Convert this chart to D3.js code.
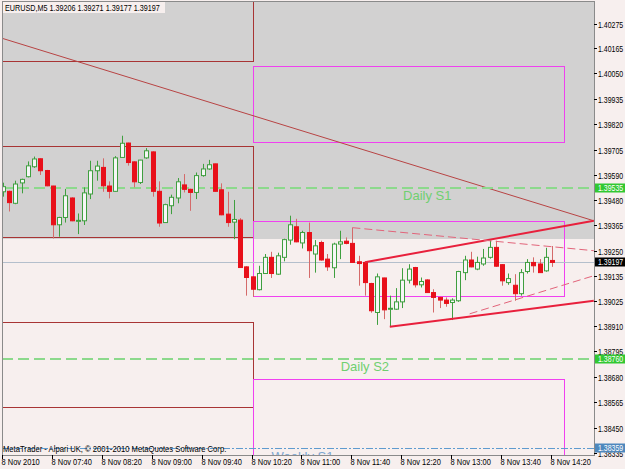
<!DOCTYPE html>
<html>
<head>
<meta charset="utf-8">
<script src="https://cdn.jsdelivr.net/npm/d3@7/dist/d3.min.js"></script>
<style>
  body { margin: 0; background: #f7efee; }
  svg { display: block; font-family: 'Liberation Sans', Arial, sans-serif; }
</style>
</head>
<body>
<div id="chart"></div>
<script>
// EURUSD M5, 8 Nov 2010 07:00 - 14:20 (89 bars)
var open = [1.39516,1.39518,1.39464,1.39556,1.39584,1.39629,1.39665,1.39612,1.39542,1.39367,
  1.39400,1.39488,1.39383,1.39385,1.39506,1.39611,1.39626,1.39542,1.39518,1.39671,
  1.39736,1.39651,1.39558,1.39669,1.39696,1.39518,1.39377,1.39453,1.39488,1.39547,
  1.39527,1.39513,1.39589,1.39619,1.39642,1.39525,1.39415,1.39379,1.39388,1.39177,
  1.39132,1.39074,1.39147,1.39220,1.39144,1.39220,1.39298,1.39358,1.39285,1.39332,
  1.39235,1.39287,1.39212,1.39173,1.39280,1.39293,1.39283,1.39200,1.39197,1.39102,
  1.38971,1.39127,1.38988,1.38986,1.39019,1.39117,1.39174,1.39096,1.39118,1.39061,
  1.39039,1.39027,1.39016,1.39024,1.39151,1.39208,1.39167,1.39190,1.39220,1.39265,
  1.39187,1.39106,1.39094,1.39056,1.39156,1.39197,1.39190,1.39159,1.39206];
var high = [1.39557,1.39521,1.39566,1.39575,1.39653,1.39675,1.39667,1.39615,1.39543,1.39403,
  1.39529,1.39491,1.39418,1.39536,1.39656,1.39656,1.39667,1.39563,1.39677,1.39769,
  1.39738,1.39654,1.39660,1.39713,1.39699,1.39563,1.39462,1.39503,1.39578,1.39596,
  1.39530,1.39603,1.39642,1.39660,1.39643,1.39554,1.39516,1.39479,1.39397,1.39180,
  1.39134,1.39182,1.39235,1.39245,1.39241,1.39304,1.39408,1.39394,1.39340,1.39377,
  1.39298,1.39295,1.39235,1.39286,1.39340,1.39310,1.39354,1.39227,1.39198,1.39105,
  1.39147,1.39128,1.39047,1.39081,1.39171,1.39189,1.39177,1.39129,1.39121,1.39076,
  1.39042,1.39039,1.39035,1.39159,1.39227,1.39245,1.39223,1.39258,1.39298,1.39295,
  1.39189,1.39147,1.39144,1.39167,1.39212,1.39220,1.39212,1.39263,1.39271];
var low = [1.39494,1.39427,1.39460,1.39509,1.39581,1.39624,1.39592,1.39541,1.39305,1.39313,
  1.39377,1.39383,1.39325,1.39366,1.39483,1.39566,1.39516,1.39486,1.39516,1.39670,
  1.39634,1.39536,1.39551,1.39665,1.39494,1.39358,1.39376,1.39415,1.39464,1.39513,
  1.39430,1.39483,1.39584,1.39615,1.39516,1.39410,1.39358,1.39302,1.39173,1.39047,
  1.39042,1.39071,1.39146,1.39127,1.39141,1.39202,1.39277,1.39288,1.39260,1.39127,
  1.39151,1.39205,1.39159,1.39127,1.39212,1.39279,1.39196,1.39092,1.39047,1.38970,
  1.38915,1.38941,1.38907,1.38983,1.38991,1.39102,1.39084,1.39084,1.39060,1.38971,
  1.38991,1.38997,1.38937,1.39019,1.39117,1.39175,1.39162,1.39182,1.39214,1.39177,
  1.39092,1.39096,1.39024,1.39047,1.39147,1.39151,1.39150,1.39155,1.39177];
var close = [1.39539,1.39467,1.39551,1.39572,1.39633,1.39664,1.39611,1.39543,1.39367,1.39400,
  1.39498,1.39385,1.39387,1.39511,1.39611,1.39632,1.39543,1.39518,1.39669,1.39735,
  1.39648,1.39561,1.39659,1.39701,1.39518,1.39375,1.39458,1.39491,1.39561,1.39527,
  1.39513,1.39589,1.39619,1.39638,1.39518,1.39412,1.39377,1.39391,1.39174,1.39129,
  1.39076,1.39147,1.39220,1.39147,1.39227,1.39300,1.39367,1.39290,1.39332,1.39250,
  1.39272,1.39208,1.39177,1.39280,1.39290,1.39283,1.39197,1.39192,1.39106,1.38979,
  1.39132,1.38983,1.38990,1.39019,1.39117,1.39167,1.39096,1.39111,1.39061,1.39039,
  1.39027,1.39012,1.39027,1.39156,1.39208,1.39177,1.39197,1.39217,1.39265,1.39180,
  1.39114,1.39124,1.39056,1.39151,1.39197,1.39182,1.39151,1.39220,1.39197];

// time axis labels (every 8 bars)
var timeLabels = ["8 Nov 2010","8 Nov 07:40","8 Nov 08:20","8 Nov 09:00","8 Nov 09:40","8 Nov 10:20",
  "8 Nov 11:00","8 Nov 11:40","8 Nov 12:20","8 Nov 13:00","8 Nov 13:40","8 Nov 14:20"];
var timeLabelBars = [0,8,16,24,32,40,48,56,64,72,80,88];

// price axis labels
var priceTicks = ["1.40275","1.40165","1.40050","1.39935","1.39820","1.39705","1.39590","1.39480",
  "1.39365","1.39250","1.39135","1.39025","1.38910","1.38795","1.38680","1.38565","1.38450","1.38335"];

// pivot levels
var levelNames = ["Daily S1","Daily S2","Weekly S1"];
var levelValues = [1.39535, 1.38760, 1.38359];
var levelLabelBars = [68, 58, 48];
var bid = 1.39197;

// objects (bar index from/to, price lo/hi)
var greyZone = [1.39304, 1.41];
var prevRects = [[-10, 40, 1.40108, 1.41], [-10, 40, 1.39312, 1.39722], [-10, 40, 1.38545, 1.38930]];
var nextRects = [[40, 90, 1.39739, 1.40085], [40, 90, 1.39047, 1.39384], [40, 90, 1.37, 1.38673]];
var trendLine = [[-0.5, 1.40212], [94.7, 1.39385]];
var channelUp = [[58, 1.39198], [94.7, 1.39385]];
var channelDown = [[62, 1.38907], [94.7, 1.39024]];
var dashUp = [[56, 1.39354], [94.7, 1.39250]];
var dashDown = [[74.8, 1.38965], [94.7, 1.39137]];

var W = 625, H = 469;
var plot = { left: 2, top: 2, right: 594, bottom: 455 };

var x = d3.scaleLinear().domain([0, 88]).range([3, 552]);
var y = d3.scaleLinear().domain([1.38325, 1.40370]).range([455.6, 2.6]);

var svg = d3.select('#chart').append('svg')
  .attr('width', W).attr('height', H);

svg.append('rect').attr('width', W).attr('height', H).attr('fill', '#f7efee');

svg.append('clipPath').attr('id', 'clip')
  .append('rect')
  .attr('x', plot.left).attr('y', plot.top)
  .attr('width', plot.right - plot.left).attr('height', plot.bottom - plot.top);

var g = svg.append('g').attr('clip-path', 'url(#clip)');

// narrow terminal-like text
function small(parent, tx, ty, str, color, sx) {
  return parent.append('text')
    .attr('transform', 'translate(' + tx + ',' + ty + ') scale(' + (sx || 0.82) + ',1)')
    .attr('font-size', 8.5)
    .attr('fill', color)
    .text(str);
}

// grey zone
g.append('rect')
  .attr('x', plot.left).attr('width', plot.right - plot.left)
  .attr('y', y(greyZone[1])).attr('height', Math.round(y(greyZone[0])) - y(greyZone[1]))
  .attr('fill', '#d2d1d1');

// rectangles
function boxes(list, color) {
  g.selectAll(null).data(list).enter().append('rect')
    .attr('x', d => Math.round(x(d[0])) + 0.5)
    .attr('y', d => Math.round(y(d[3])) + 0.5)
    .attr('width', d => Math.round(x(d[1])) - Math.round(x(d[0])))
    .attr('height', d => Math.round(y(d[2])) - Math.round(y(d[3])))
    .attr('fill', 'none')
    .attr('stroke', color);
}
boxes(prevRects, '#a83434');
boxes(nextRects, '#f040f0');

// old trend line
var line = d3.line().x(d => x(d[0])).y(d => y(d[1]));
g.append('path').attr('d', line(trendLine))
  .attr('fill', 'none').attr('stroke', '#b84444').attr('stroke-width', 1);

// pivot levels
levelValues.forEach(function (v, i) {
  var weekly = i == 2;
  var ly = Math.round(y(v)) + (weekly ? 0.5 : 0);
  g.append('line')
    .attr('x1', plot.left).attr('x2', plot.right)
    .attr('y1', ly).attr('y2', ly)
    .attr('stroke', weekly ? '#5f9bcf' : '#8cd98c')
    .attr('stroke-width', weekly ? 1 : 2)
    .attr('stroke-dasharray', weekly ? '7,2,2,2' : '11,5');
  g.append('text')
    .attr('x', x(levelLabelBars[i]))
    .attr('y', ly + 12)
    .attr('text-anchor', 'middle')
    .attr('font-size', 13)
    .attr('fill', weekly ? '#7aa6d2' : '#70cf70')
    .text(levelNames[i]);
});

// bid line
g.append('line')
  .attr('x1', plot.left).attr('x2', plot.right)
  .attr('y1', Math.round(y(bid)) + 0.5).attr('y2', Math.round(y(bid)) + 0.5)
  .attr('stroke', '#b4bfcc');

// candles
var bars = d3.range(open.length).map(i => ({ i: i, o: open[i], h: high[i], l: low[i], c: close[i] }));
var candle = g.selectAll('.candle').data(bars).enter().append('g').attr('class', 'candle');
candle.append('line')
  .attr('x1', d => Math.round(x(d.i)) + 0.5).attr('x2', d => Math.round(x(d.i)) + 0.5)
  .attr('y1', d => y(d.h)).attr('y2', d => y(d.l))
  .attr('stroke', d => d.c >= d.o ? '#3f9f3f' : '#d46a6a');
candle.append('rect')
  .attr('x', d => Math.round(x(d.i)) - 1.5)
  .attr('y', d => y(Math.max(d.o, d.c)))
  .attr('width', 4)
  .attr('height', d => Math.max(1, y(Math.min(d.o, d.c)) - y(Math.max(d.o, d.c))))
  .attr('fill', d => d.c >= d.o ? '#f6f6f6' : '#e8101a')
  .attr('stroke', d => d.c >= d.o ? '#3f9f3f' : '#e8101a');

// channel
g.append('path').attr('d', line(channelUp))
  .attr('fill', 'none').attr('stroke', '#e8203c').attr('stroke-width', 2);
g.append('path').attr('d', line(channelDown))
  .attr('fill', 'none').attr('stroke', '#e8203c').attr('stroke-width', 2);
g.append('path').attr('d', line(dashUp))
  .attr('fill', 'none').attr('stroke', '#e2647a').attr('stroke-dasharray', '8,4');
g.append('path').attr('d', line(dashDown))
  .attr('fill', 'none').attr('stroke', '#e2647a').attr('stroke-dasharray', '8,4');

// title
g.append('rect').attr('x', 3).attr('y', 2).attr('width', 162).attr('height', 11).attr('fill', '#f7efee');
small(svg, 5, 11, 'EURUSD,M5  ' + [open[88], high[88], low[88], close[88]].map(v => v.toFixed(5)).join(' '), '#000', 0.85);

small(svg, 3, 452, 'MetaTrader - Alpari UK, \u00a9 2001-2010 MetaQuotes Software Corp.', '#000', 0.9);

// frame
svg.append('rect')
  .attr('x', plot.left + 0.5).attr('y', plot.top - 0.5)
  .attr('width', plot.right - plot.left).attr('height', plot.bottom - plot.top + 1)
  .attr('fill', 'none').attr('stroke', '#8a8a8a');

// price axis
priceTicks.forEach(function (t) {
  var py = Math.round(y(+t)) + 0.5;
  svg.append('line').attr('x1', plot.right).attr('x2', plot.right + 3)
    .attr('y1', py).attr('y2', py).attr('stroke', '#000');
  small(svg, 598, py + 3, t, '#000');
});

// price boxes
var boxVals = [levelValues[0], bid, levelValues[1], levelValues[2]];
var boxColors = ['#32c832', '#000000', '#32c832', '#4f88bd'];
boxVals.forEach(function (v, i) {
  var py = Math.round(y(v));
  svg.append('rect').attr('x', 595).attr('y', py - 4.5)
    .attr('width', 30).attr('height', 9).attr('fill', boxColors[i]);
  small(svg, 598, py + 3, v.toFixed(5), '#fff');
});

// time axis
timeLabelBars.forEach(function (b, i) {
  var tx = Math.round(x(b)) - 0.5;
  svg.append('line').attr('x1', tx).attr('x2', tx)
    .attr('y1', plot.bottom).attr('y2', plot.bottom + 4).attr('stroke', '#000');
  small(svg, tx - 1, 465, timeLabels[i], '#000', 0.88);
});
</script>
</body>
</html>
